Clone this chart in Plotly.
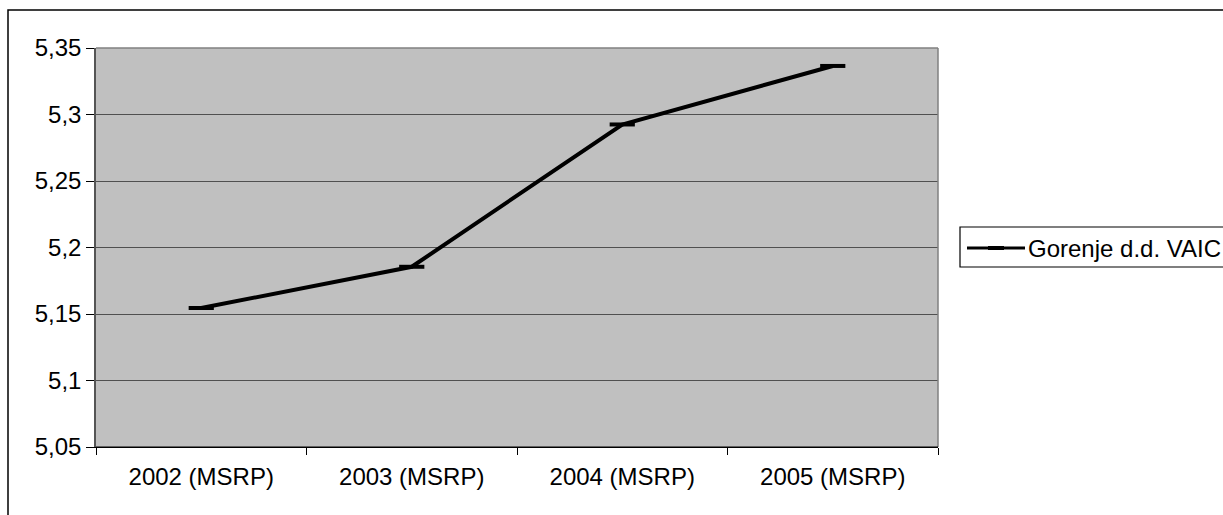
import plotly.graph_objects as go

# Gorenje d.d. VAIC by reporting year
years = ["2002 (MSRP)", "2003 (MSRP)", "2004 (MSRP)", "2005 (MSRP)"]
vaic = [5.1545, 5.1855, 5.2925, 5.3365]
series_name = "Gorenje d.d. VAIC"

y_ticks = [5.05, 5.10, 5.15, 5.20, 5.25, 5.30, 5.35]
y_tick_labels = ["5,05", "5,1", "5,15", "5,2", "5,25", "5,3", "5,35"]

W, H = 1223, 515
L, R, T, B = 96, 938, 48, 447  # plot area edges in pixels
FONT = "Liberation Sans, Arial, sans-serif"


def px_x(p):
    return (p - L) / (R - L)


def px_y(p):
    return 1 - (p - T) / (B - T)


fig = go.Figure()
fig.add_trace(go.Scatter(
    x=years, y=vaic, mode="lines+markers", name=series_name,
    line=dict(color="black", width=4),
    marker=dict(symbol="line-ew", size=18, line=dict(color="black", width=4)),
    showlegend=False,
))

shapes = [
    # outer chart frame
    dict(type="rect", xref="paper", yref="paper",
         x0=px_x(8), x1=px_x(1240), y0=px_y(530), y1=px_y(10),
         line=dict(color="black", width=1.5)),
    # plot area frame (top / right edges)
    dict(type="line", xref="paper", yref="paper",
         x0=0, x1=1, y0=1, y1=1, line=dict(color="#808080", width=1.5)),
    dict(type="line", xref="paper", yref="paper",
         x0=1, x1=1, y0=0, y1=1, line=dict(color="#808080", width=1.5)),
    # black category axis line on top of the lowest gridline
    dict(type="line", xref="paper", yref="paper",
         x0=0, x1=1, y0=0, y1=0, line=dict(color="black", width=1.2)),
    # legend box
    dict(type="rect", xref="paper", yref="paper",
         x0=px_x(960), x1=px_x(1240), y0=px_y(267), y1=px_y(227),
         line=dict(color="black", width=1.2), fillcolor="white"),
    # legend line sample
    dict(type="line", xref="paper", yref="paper",
         x0=px_x(967), x1=px_x(1025), y0=px_y(248), y1=px_y(248),
         line=dict(color="black", width=3)),
    dict(type="line", xref="paper", yref="paper",
         x0=px_x(988), x1=px_x(1004), y0=px_y(248), y1=px_y(248),
         line=dict(color="black", width=4)),
]

annotations = [
    dict(text=series_name, xref="paper", yref="paper",
         x=px_x(1026), y=px_y(248), xanchor="left", yanchor="middle",
         showarrow=False, font=dict(family=FONT, size=24, color="black")),
]

fig.update_layout(
    width=W, height=H,
    margin=dict(l=L, r=W - R, t=T, b=H - B, pad=0),
    paper_bgcolor="white",
    plot_bgcolor="#C0C0C0",
    font=dict(family=FONT, size=24, color="black"),
    shapes=shapes,
    annotations=annotations,
    xaxis=dict(
        type="category", range=[-0.5, 3.5],
        showgrid=False, showline=True, linecolor="black", linewidth=1.2,
        ticks="outside", tickson="boundaries", ticklen=7, tickcolor="black",
        tickwidth=1.2, ticklabelstandoff=8,
        tickfont=dict(family=FONT, size=24, color="black"),
    ),
    yaxis=dict(
        range=[5.05, 5.35], tickvals=y_ticks, ticktext=y_tick_labels,
        showgrid=True, gridcolor="#505050", gridwidth=1.2,
        showline=True, linecolor="#555555", linewidth=1.5,
        ticks="outside", ticklen=8, tickcolor="black", tickwidth=1.2,
        ticklabelstandoff=0, zeroline=False,
        tickfont=dict(family=FONT, size=24, color="black"),
    ),
)

fig.write_html("out.html")
